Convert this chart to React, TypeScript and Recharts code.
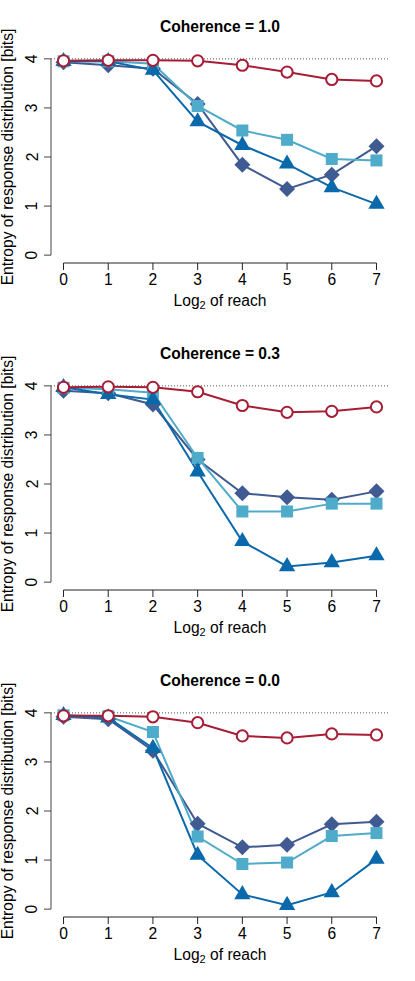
import { Label, Line, LineChart, ReferenceLine, XAxis, YAxis } from "recharts";

const reach = [0, 1, 2, 3, 4, 5, 6, 7];
const xTicks = [0, 1, 2, 3, 4, 5, 6, 7];
const yTicks = [0, 1, 2, 3, 4];

// Coherence = 1.0
const coh10Circle = [3.96, 3.97, 3.97, 3.96, 3.87, 3.73, 3.58, 3.55];
const coh10Square = [3.95, 3.95, 3.9, 3.04, 2.54, 2.35, 1.96, 1.93];
const coh10Diamond = [3.93, 3.87, 3.8, 3.08, 1.84, 1.35, 1.64, 2.22];
const coh10Triangle = [3.95, 3.95, 3.77, 2.72, 2.24, 1.86, 1.38, 1.04];

// Coherence = 0.3
const coh03Circle = [3.97, 3.98, 3.97, 3.88, 3.6, 3.46, 3.48, 3.57];
const coh03Square = [3.96, 3.93, 3.86, 2.53, 1.44, 1.44, 1.6, 1.6];
const coh03Diamond = [3.9, 3.85, 3.62, 2.5, 1.81, 1.73, 1.68, 1.85];
const coh03Triangle = [3.97, 3.83, 3.72, 2.25, 0.83, 0.32, 0.4, 0.54];

// Coherence = 0.0
const coh00Circle = [3.94, 3.94, 3.92, 3.8, 3.53, 3.49, 3.57, 3.55];
const coh00Square = [3.95, 3.93, 3.61, 1.48, 0.92, 0.95, 1.49, 1.55];
const coh00Diamond = [3.92, 3.87, 3.23, 1.74, 1.26, 1.31, 1.73, 1.78];
const coh00Triangle = [3.95, 3.9, 3.28, 1.1, 0.3, 0.08, 0.34, 1.02];

const titles = ["Coherence = 1.0", "Coherence = 0.3", "Coherence = 0.0"];

const RED = "#A71D36";
const LIGHT = "#4FABCA";
const SLATE = "#3F5B91";
const BLUE = "#0A69AB";
const FONT = "'Liberation Sans', Arial, Helvetica, sans-serif";
const FS = 15.6;

function buildRows(c: number[], s: number[], d: number[], t: number[]) {
  return reach.map((x, i) => ({
    x,
    circle: c[i],
    square: s[i],
    diamond: d[i],
    triangle: t[i],
  }));
}

const panels = [
  buildRows(coh10Circle, coh10Square, coh10Diamond, coh10Triangle),
  buildRows(coh03Circle, coh03Square, coh03Diamond, coh03Triangle),
  buildRows(coh00Circle, coh00Square, coh00Diamond, coh00Triangle),
];

const circleDot = (p: any) => (
  <circle
    key={`c-${p.index}`}
    cx={p.cx}
    cy={p.cy}
    r={5.6}
    fill="#fff"
    stroke={RED}
    strokeWidth={2}
  />
);

const squareDot = (p: any) => (
  <rect
    key={`s-${p.index}`}
    x={p.cx - 6}
    y={p.cy - 6}
    width={12}
    height={12}
    fill={LIGHT}
  />
);

const diamondDot = (p: any) => (
  <polygon
    key={`d-${p.index}`}
    points={`${p.cx},${p.cy - 8} ${p.cx + 8},${p.cy} ${p.cx},${p.cy + 8} ${p.cx - 8},${p.cy}`}
    fill={SLATE}
  />
);

const triangleDot = (p: any) => {
  const r = 9.4;
  const xc = r * 0.866;
  const yc = r * 0.5;
  return (
    <polygon
      key={`t-${p.index}`}
      points={`${p.cx},${p.cy - r} ${p.cx + xc},${p.cy + yc} ${p.cx - xc},${p.cy + yc}`}
      fill={BLUE}
    />
  );
};

const YTick = (p: any) => {
  const x = p.x - 4.5;
  const y = p.y;
  return (
    <text
      x={x}
      y={y}
      transform={`rotate(-90 ${x} ${y})`}
      textAnchor="middle"
      fontFamily={FONT}
      fontSize={FS}
      fill="#000"
    >
      {p.payload.value}
    </text>
  );
};

const YTitle = (p: any) => {
  const vb = p.viewBox || {};
  const cy = (vb.y ?? 51) + (vb.height ?? 212) / 2;
  const x = 12.5;
  return (
    <text
      x={x}
      y={cy}
      transform={`rotate(-90 ${x} ${cy})`}
      textAnchor="middle"
      fontFamily={FONT}
      fontSize={FS}
      fill="#000"
    >
      Entropy of response distribution [bits]
    </text>
  );
};

const XTitle = (p: any) => {
  const vb = p.viewBox || {};
  const cx = (vb.x ?? 51) + (vb.width ?? 338) / 2;
  const y = (vb.y ?? 263) + 43;
  return (
    <text
      x={cx}
      y={y}
      textAnchor="middle"
      fontFamily={FONT}
      fontSize={FS}
      fill="#000"
    >
      Log
      <tspan fontSize={11} dy={3}>
        2
      </tspan>
      <tspan dy={-3}> of reach</tspan>
    </text>
  );
};

function Panel({ rows, title }: { rows: any[]; title: string }) {
  return (
    <div style={{ position: "relative", width: 415, height: 327 }}>
      <svg
        width={415}
        height={327}
        style={{ position: "absolute", left: 0, top: 0, pointerEvents: "none" }}
      >
        <text
          x={220}
          y={32}
          textAnchor="middle"
          fontFamily={FONT}
          fontSize={FS}
          fontWeight="bold"
          fill="#000"
        >
          {title}
        </text>
      </svg>
      <LineChart
        width={415}
        height={327}
        data={rows}
        margin={{ top: 51, right: 26, bottom: 24, left: 0 }}
      >
        <XAxis
          type="number"
          dataKey="x"
          domain={[-0.28, 7.28]}
          ticks={xTicks}
          allowDataOverflow
          axisLine={false}
          tickLine={{ stroke: "#222", strokeWidth: 1 }}
          tickSize={7}
          tickMargin={4}
          tick={{ fontFamily: FONT, fontSize: FS, fill: "#000" }}
          height={40}
        >
          <Label content={XTitle} />
        </XAxis>
        <YAxis
          type="number"
          domain={[-0.16, 4.16]}
          ticks={yTicks}
          allowDataOverflow
          axisLine={false}
          tickLine={{ stroke: "#444", strokeWidth: 1 }}
          tickSize={7}
          tick={YTick}
          width={51}
        >
          <Label content={YTitle} />
        </YAxis>
        <ReferenceLine
          segment={[
            { x: -0.28, y: 0 },
            { x: -0.28, y: 4 },
          ]}
          stroke="#444"
          strokeWidth={1}
          ifOverflow="visible"
        />
        <ReferenceLine
          segment={[
            { x: 0, y: -0.16 },
            { x: 7, y: -0.16 },
          ]}
          stroke="#222"
          strokeWidth={1}
          ifOverflow="visible"
        />
        <ReferenceLine
          y={4}
          stroke="#555"
          strokeWidth={1}
          strokeDasharray="1 2"
        />
        <Line
          dataKey="diamond"
          type="linear"
          stroke={SLATE}
          strokeWidth={2}
          dot={diamondDot}
          activeDot={false}
          isAnimationActive={false}
        />
        <Line
          dataKey="square"
          type="linear"
          stroke={LIGHT}
          strokeWidth={2}
          dot={squareDot}
          activeDot={false}
          isAnimationActive={false}
        />
        <Line
          dataKey="triangle"
          type="linear"
          stroke={BLUE}
          strokeWidth={2}
          dot={triangleDot}
          activeDot={false}
          isAnimationActive={false}
        />
        <Line
          dataKey="circle"
          type="linear"
          stroke={RED}
          strokeWidth={2}
          dot={circleDot}
          activeDot={false}
          isAnimationActive={false}
        />
      </LineChart>
    </div>
  );
}

export default function App() {
  return (
    <div
      style={{
        position: "absolute",
        left: 0,
        top: 0,
        width: 415,
        height: 981,
        background: "#fff",
      }}
    >
      {panels.map((rows, i) => (
        <Panel key={titles[i]} rows={rows} title={titles[i]} />
      ))}
    </div>
  );
}
